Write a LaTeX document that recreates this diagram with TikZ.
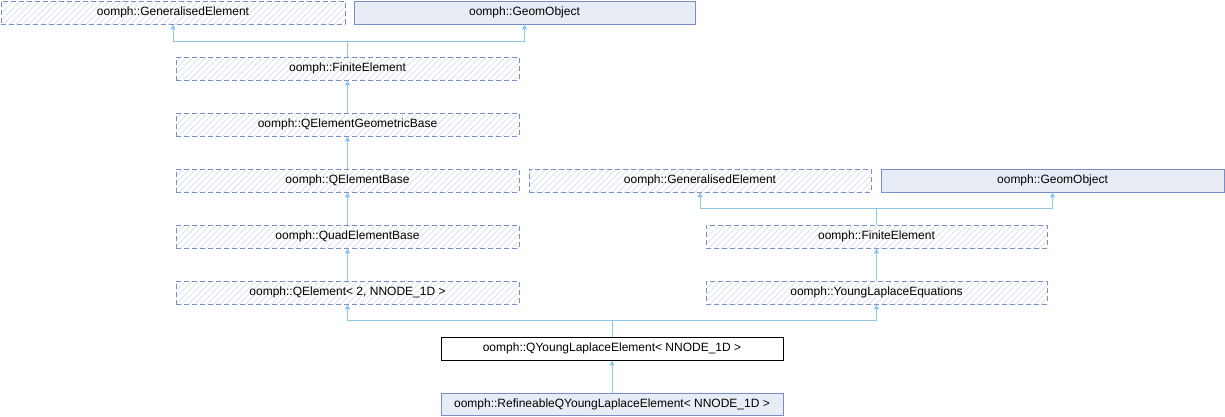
\documentclass[tikz,border=0pt]{standalone}
\usepackage{fontspec}
\setmainfont{Liberation Sans}
\usetikzlibrary{patterns.meta,arrows.meta}
\definecolor{bordc}{HTML}{7A8FC9}
\definecolor{hatchc}{HTML}{DDE3EF}
\definecolor{fillc}{HTML}{E8ECF5}
\definecolor{edgec}{HTML}{8EC6E8}
\tikzset{
  cls/.style={rectangle, minimum height=23pt, inner sep=0pt, font=\fontsize{12}{14}\selectfont, anchor=center},
  undoc/.style={cls, draw=bordc, dash pattern=on 5pt off 3pt, line width=0.8pt,
     pattern={Lines[angle=45,distance=4.5pt,line width=0.9pt]}, pattern color=hatchc},
  docd/.style={cls, draw=bordc, fill=fillc, line width=0.8pt},
  cur/.style={cls, draw=black, fill=white, line width=0.8pt},
  arr/.style={draw=edgec, line width=0.9pt, -{Triangle[length=5pt,width=5pt]}},
}
\begin{document}
\begin{tikzpicture}[x=1pt,y=-1pt]
\useasboundingbox (0,0) rectangle (1225,416);
% row 1
\node[undoc, minimum width=344pt] (ge1) at (173,12.5) {oomph::GeneralisedElement};
\node[docd, minimum width=341pt] (go1) at (524.5,12.5) {oomph::GeomObject};
% left column
\node[undoc, minimum width=343pt] (fe1) at (347.5,68.5) {oomph::FiniteElement};
\node[undoc, minimum width=343pt] (qgb) at (347.5,124.5) {oomph::QElementGeometricBase};
\node[undoc, minimum width=343pt] (qeb) at (347.5,180.5) {oomph::QElementBase};
\node[undoc, minimum width=343pt] (quad) at (347.5,236.5) {oomph::QuadElementBase};
\node[undoc, minimum width=343pt] (qe) at (347.5,292.5) {oomph::QElement\textless{} 2, NNODE\_1D \textgreater{}};
% right column
\node[undoc, minimum width=342pt] (ge2) at (700,180.5) {oomph::GeneralisedElement};
\node[docd, minimum width=343pt] (go2) at (1052.5,180.5) {oomph::GeomObject};
\node[undoc, minimum width=341pt] (fe2) at (876.5,236.5) {oomph::FiniteElement};
\node[undoc, minimum width=341pt] (yle) at (876.5,292.5) {oomph::YoungLaplaceEquations};
% bottom
\node[cur, minimum width=342pt] (qyl) at (612,348.5) {oomph::QYoungLaplaceElement\textless{} NNODE\_1D \textgreater{}};
\node[docd, minimum width=342pt, minimum height=22pt] (rqyl) at (612,404) {oomph::RefineableQYoungLaplaceElement\textless{} NNODE\_1D \textgreater{}};
% connectors
\coordinate (j1) at (347.5,41);
\draw[arr] (fe1.north) -- (j1) -| (ge1.south);
\draw[arr] (j1) -| (go1.south);
\draw[arr] (qgb.north) -- (fe1.south);
\draw[arr] (qeb.north) -- (qgb.south);
\draw[arr] (quad.north) -- (qeb.south);
\draw[arr] (qe.north) -- (quad.south);
\coordinate (j2) at (876.5,208);
\draw[arr] (fe2.north) -- (j2) -| (ge2.south);
\draw[arr] (j2) -| (go2.south);
\draw[arr] (yle.north) -- (fe2.south);
\coordinate (j3) at (612,320);
\draw[arr] (qyl.north) -- (j3) -| (qe.south);
\draw[arr] (j3) -| (yle.south);
\draw[arr] (rqyl.north) -- (qyl.south);
\end{tikzpicture}
\end{document}
